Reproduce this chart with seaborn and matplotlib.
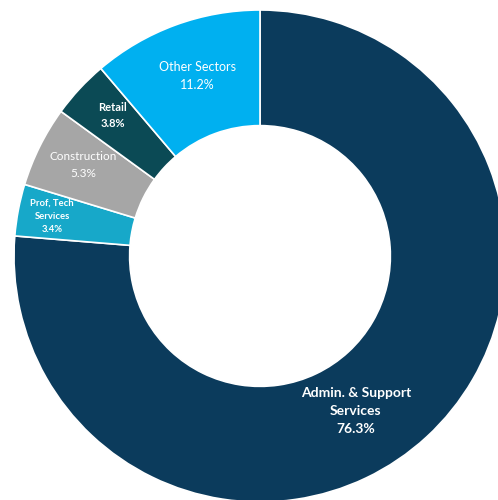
import matplotlib.pyplot as plt
import seaborn as sns

# sector shares (%), clockwise from the top
sectors = ['Admin. & Support\nServices', 'Prof, Tech\nServices', 'Construction', 'Retail', 'Other Sectors']
shares = [76.3, 3.4, 5.3, 3.8, 11.2]
colors = ['#0b3b5c', '#17a8c9', '#a6a6a6', '#0b4a55', '#00b0f0']

sns.set_theme(style="white")
plt.rcParams['font.family'] = ['Lato', 'DejaVu Sans']

fig = plt.figure(figsize=(4.98, 5.0), dpi=100)
ax = fig.add_axes([0, 0, 1, 1])

wedges, _ = ax.pie(shares, colors=colors, startangle=90, counterclock=False,
                   radius=1.0, wedgeprops=dict(width=0.47, edgecolor='white', linewidth=1.2))

# label positions (data units, ring radius = 1)
label_pos = [(0.39, -0.63), (-0.845, 0.16), (-0.72, 0.37), (-0.60, 0.57), (-0.255, 0.73)]
label_size = [10, 6.8, 8.5, 8, 9]
label_bold = [True, True, False, True, False]
for name, val, (x, y), fs, b in zip(sectors, shares, label_pos, label_size, label_bold):
    ax.text(x, y, f"{name}\n{val:.1f}%", ha='center', va='center', color='white',
            fontsize=fs, fontweight='bold' if b else 'normal', linespacing=1.6)

ax.set_xlim(-260 / 246, (498 - 260) / 246)
ax.set_ylim(-(500 - 256) / 246, 256 / 246)
ax.set_aspect('auto')
ax.axis('off')

plt.savefig('out.png', dpi=100)
